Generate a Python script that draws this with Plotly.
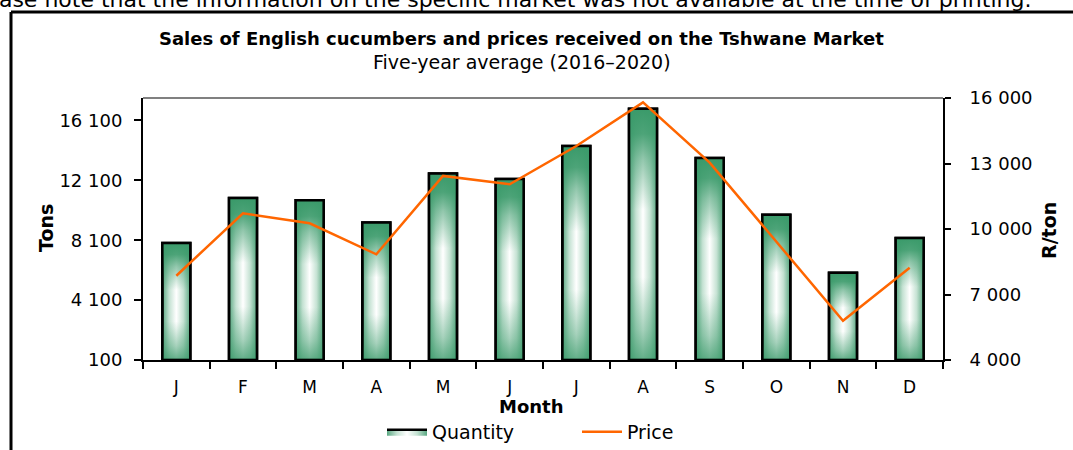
import plotly.graph_objects as go

# ---------------- data ----------------
months = ["J", "F", "M", "A", "M", "J", "J", "A", "S", "O", "N", "D"]
quantity = [7920, 10920, 10770, 9280, 12550, 12190, 14390, 16880, 13590, 9810, 5920, 8250]
price = [7860, 10720, 10260, 8840, 12430, 12050, 13800, 15800, 13040, 9420, 5800, 8230]
tons_ticks = [100, 4100, 8100, 12100, 16100]
tons_labels = ["100", "4 100", "8 100", "12 100", "16 100"]
price_ticks = [4000, 7000, 10000, 13000, 16000]
price_labels = ["4 000", "7 000", "10 000", "13 000", "16 000"]

title = "Sales of English cucumbers and prices received on the Tshwane Market"
subtitle = "Five-year average (2016–2020)"
top_note = "Please note that the information on the specific market was not available at the time of printing."

# ---------------- layout constants ----------------
W, H = 1073, 450
L, R, T, B = 143, 943, 98, 360
FONT = "DejaVu Sans, Liberation Sans, Arial, sans-serif"
GREEN = "#3a9a6a"
EDGE = "#5aa882"
LIGHT = "#c5e2d3"
ORANGE = "#ff6600"
BAR_W = 0.42
BASE = 100
TONS_RANGE = [100, 17600]
PRICE_RANGE = [4000, 16000]


def px_x(x):
    return (x - L) / (R - L)


def px_y(y):
    return (B - y) / (B - T)


def g(a):
    return f"rgba(58,154,106,{a})"


fig = go.Figure()

x_pos = list(range(len(months)))

# Quantity bars: rectangles with a horizontal gradient, overlaid by a vertical fade
for i, (xi, q) in enumerate(zip(x_pos, quantity)):
    xs = [xi - BAR_W / 2, xi + BAR_W / 2, xi + BAR_W / 2, xi - BAR_W / 2, xi - BAR_W / 2]
    ys = [BASE, BASE, q, q, BASE]
    fig.add_trace(go.Scatter(
        x=xs, y=ys,
        mode="lines",
        fill="toself",
        fillgradient=dict(
            type="horizontal",
            colorscale=[[0, EDGE], [0.25, LIGHT], [0.5, "#ffffff"], [0.75, LIGHT], [1, EDGE]],
        ),
        line=dict(color="black", width=2.5),
        name="Quantity",
        legendgroup="q",
        showlegend=(i == 0),
        hoverinfo="skip",
        xaxis="x", yaxis="y",
    ))
    fig.add_trace(go.Scatter(
        x=xs, y=ys,
        mode="lines",
        fill="toself",
        fillgradient=dict(
            type="vertical",
            colorscale=[[0, g(0.8)], [0.12, g(0.45)], [0.33, g(0.0)], [0.6, g(0.0)],
                        [0.8, g(0.55)], [0.9, g(0.9)], [1, g(1)]],
        ),
        line=dict(color="black", width=2.5),
        name="Quantity",
        legendgroup="q",
        showlegend=False,
        hoverinfo="skip",
        xaxis="x", yaxis="y",
    ))

# Price line on the right axis
fig.add_trace(go.Scatter(
    x=x_pos,
    y=price,
    mode="lines",
    line=dict(color=ORANGE, width=2.5),
    name="Price",
    xaxis="x",
    yaxis="y2",
))

boundaries = [i - 0.5 for i in range(len(months) + 1)]

fig.update_layout(
    width=W,
    height=H,
    margin=dict(l=L, r=W - R, t=T, b=H - B, pad=0, autoexpand=False),
    paper_bgcolor="white",
    plot_bgcolor="white",
    font=dict(family=FONT, size=17, color="black"),
    xaxis=dict(
        range=[-0.5, len(months) - 0.5],
        tickmode="array",
        tickvals=x_pos,
        ticktext=months,
        ticks="",
        showgrid=False,
        zeroline=False,
        showline=True,
        linecolor="black",
        linewidth=2,
        tickfont=dict(size=17),
        minor=dict(
            tickmode="array",
            tickvals=boundaries,
            ticks="outside",
            ticklen=7,
            tickwidth=2,
            tickcolor="black",
            showgrid=False,
        ),
        ticklabelstandoff=11,
    ),
    yaxis=dict(
        range=TONS_RANGE,
        tickmode="array",
        tickvals=tons_ticks,
        ticktext=tons_labels,
        ticks="outside",
        ticklen=7,
        tickwidth=2,
        tickcolor="black",
        showgrid=False,
        zeroline=False,
        showline=True,
        linecolor="black",
        linewidth=2,
        tickfont=dict(size=18),
        ticklabelstandoff=8,
    ),
    yaxis2=dict(
        range=PRICE_RANGE,
        overlaying="y",
        side="right",
        tickmode="array",
        tickvals=price_ticks,
        ticktext=price_labels,
        ticks="outside",
        ticklen=6,
        tickwidth=2,
        tickcolor="black",
        showgrid=False,
        zeroline=False,
        showline=True,
        linecolor="black",
        linewidth=2,
        tickfont=dict(size=18),
        ticklabelstandoff=15,
    ),
    legend=dict(
        orientation="h",
        x=px_x(382),
        y=px_y(432),
        xanchor="left",
        yanchor="middle",
        entrywidth=140,
        entrywidthmode="pixels",
        itemwidth=40,
        font=dict(size=19),
        bgcolor="rgba(0,0,0,0)",
        traceorder="normal",
    ),
    showlegend=True,
)

annotations = [
    dict(text=f"<b>{title}</b>", x=px_x(521), y=px_y(38), font=dict(size=18)),
    dict(text=subtitle, x=px_x(522), y=px_y(62), font=dict(size=19)),
    dict(text="<b>Month</b>", x=px_x(531), y=px_y(406), font=dict(size=18)),
    dict(text="<b>Tons</b>", x=px_x(46), y=px_y(228), textangle=-90, font=dict(size=19)),
    dict(text="<b>R/ton</b>", x=px_x(1049), y=px_y(231), textangle=-90, font=dict(size=19)),
]
for a in annotations:
    a.update(xref="paper", yref="paper", showarrow=False, xanchor="center", yanchor="middle")
fig.add_annotation(text=top_note, xref="paper", yref="paper", x=px_x(1033), y=px_y(-1),
                   xanchor="right", yanchor="middle", showarrow=False, font=dict(size=22))
for a in annotations:
    fig.add_annotation(**a)

# outer frame (top and left edges visible) and grey top border of the plot area
shapes = [
    dict(type="line", xref="paper", yref="paper", x0=px_x(11), x1=px_x(1080), y0=px_y(12), y1=px_y(12),
         line=dict(color="black", width=3)),
    dict(type="line", xref="paper", yref="paper", x0=px_x(11), x1=px_x(11), y0=px_y(12), y1=px_y(460),
         line=dict(color="black", width=3)),
    dict(type="line", xref="paper", yref="paper", x0=0, x1=1, y0=1, y1=1,
         line=dict(color="#808080", width=2)),
]
fig.update_layout(shapes=shapes)

# remove the default page margin so the figure fills the window exactly
fig.write_html(
    "out.html",
    config={"displayModeBar": False},
    post_script="document.body.style.margin='0';document.body.style.overflow='hidden';",
)
